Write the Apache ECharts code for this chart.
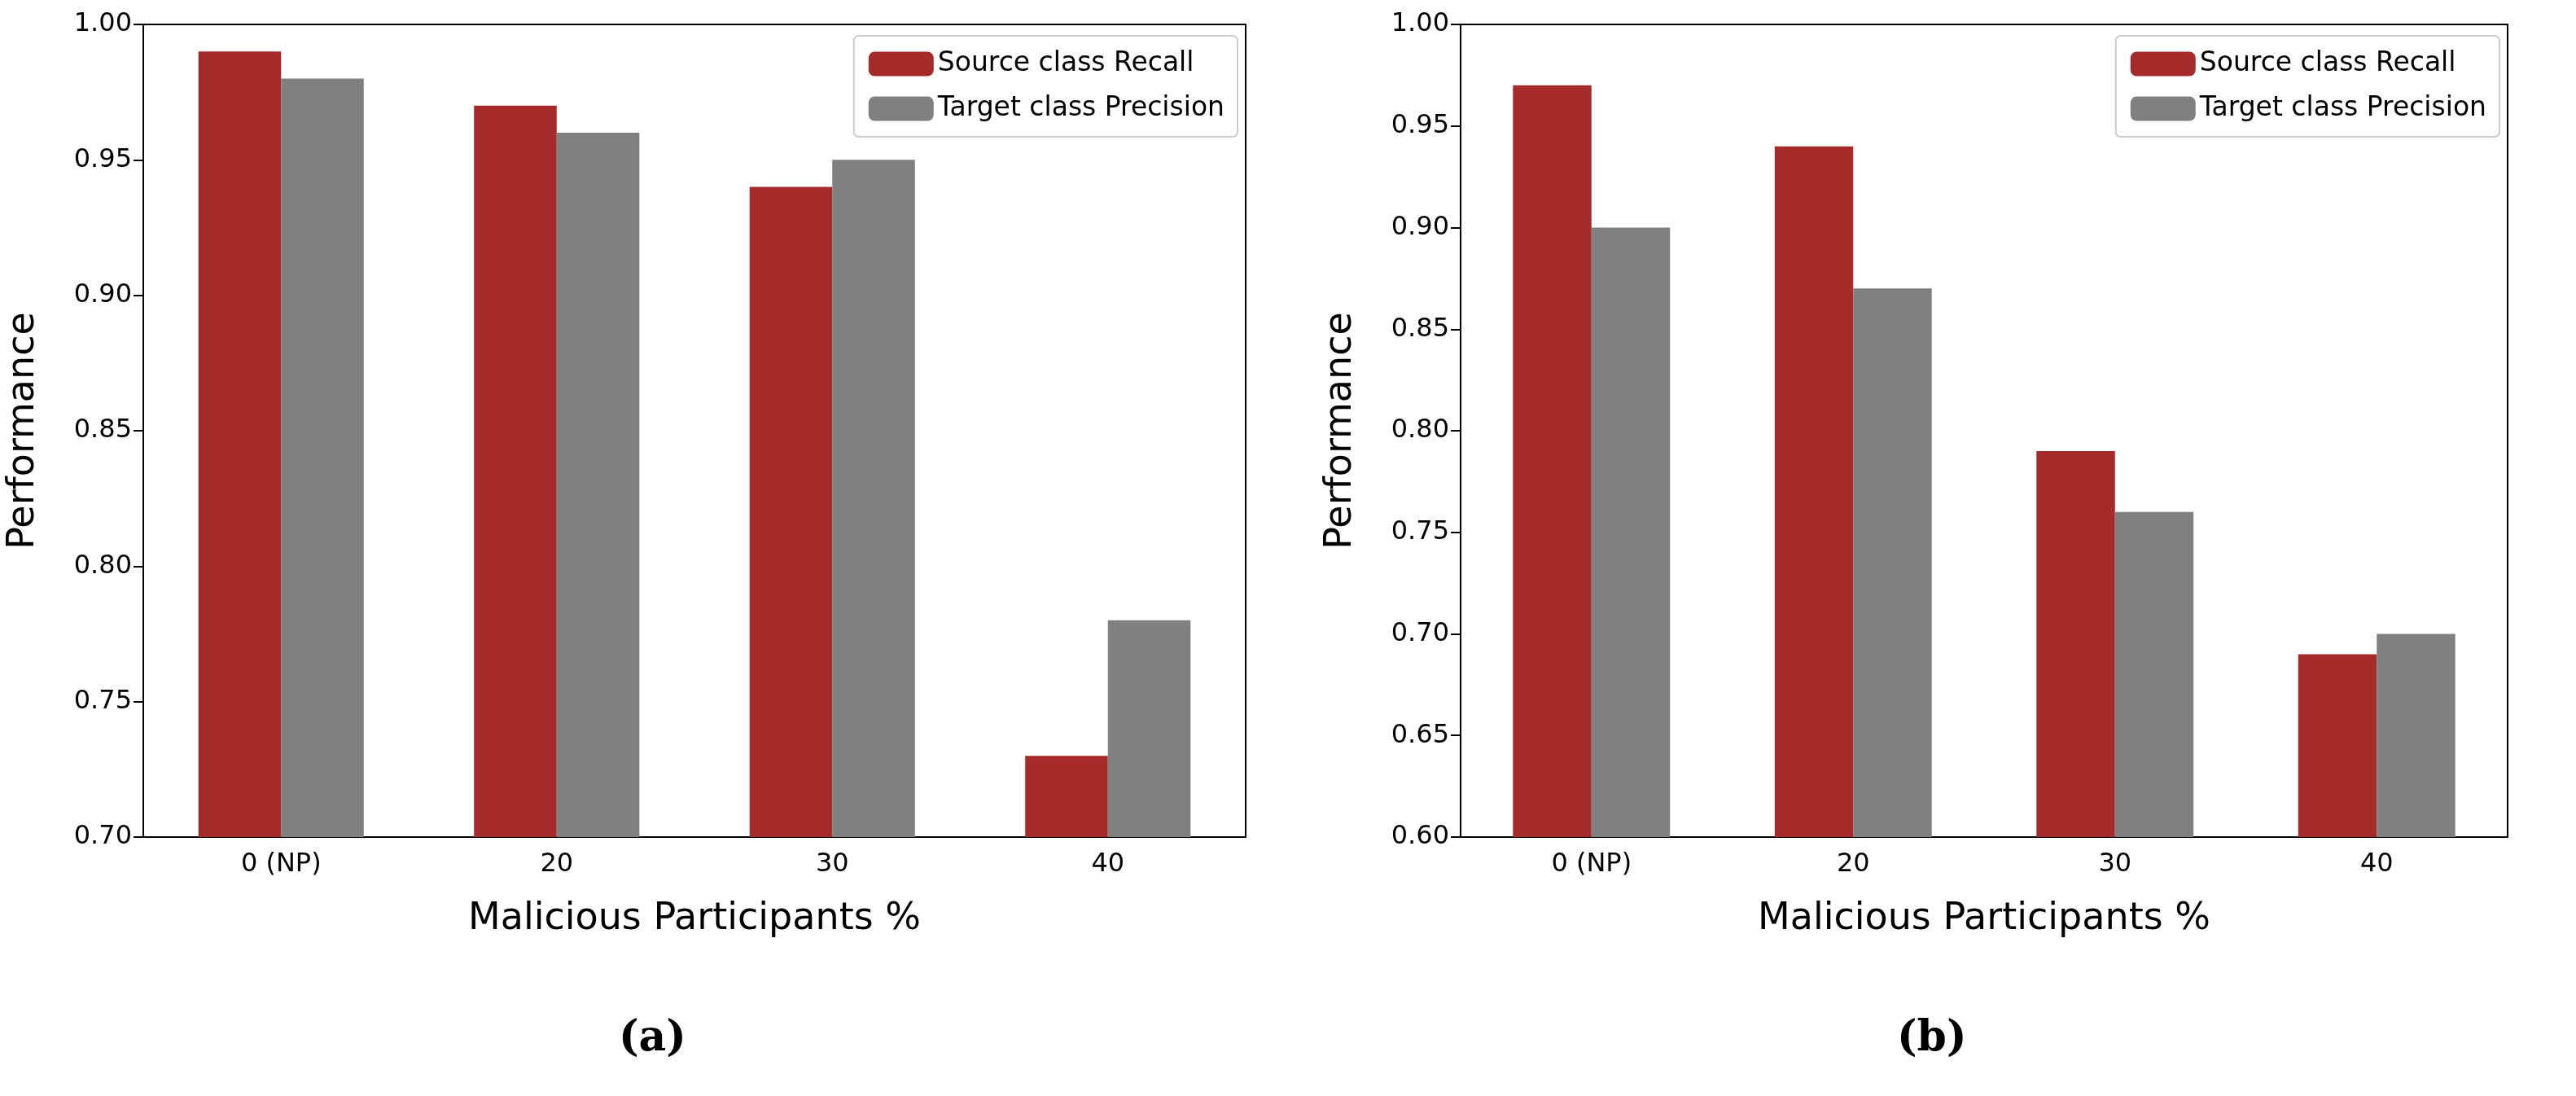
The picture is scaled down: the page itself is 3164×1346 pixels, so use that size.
<!DOCTYPE html>
<html><head><meta charset="utf-8">
<script src="https://cdn.jsdelivr.net/npm/echarts@6/dist/echarts.min.js"></script>
<style>html,body{margin:0;background:#fff}#c{width:3164px;height:1346px}</style>
</head><body><div id="c"></div>
<script>
const categories = ['0 (NP)', '20', '30', '40'];
const recallA = [0.99, 0.97, 0.94, 0.73];
const precisionA = [0.98, 0.96, 0.95, 0.78];
const recallB = [0.97, 0.94, 0.79, 0.69];
const precisionB = [0.90, 0.87, 0.76, 0.70];
const seriesNames = ['Source class Recall', 'Target class Precision'];
const RED = '#a52a2a', GRAY = '#808080';
const F = 'DejaVu Sans';

const chart = echarts.init(document.getElementById('c'));
function grid(left, width){return {left:left, top:30, width:width, height:998, show:true, borderColor:'#000', borderWidth:2, backgroundColor:'transparent'};}
function xAx(i){return {type:'category', gridIndex:i, data:categories, boundaryGap:true,
  axisLine:{lineStyle:{color:'#000',width:2}}, axisTick:{alignWithLabel:true,length:12,lineStyle:{color:'#000',width:2}},
  axisLabel:{fontFamily:F,fontSize:32,color:'#000',margin:18},
  name:'Malicious Participants %', nameLocation:'middle', nameGap:78, nameTextStyle:{fontFamily:F,fontSize:46,color:'#000'}};}
function yAx(i,min){return {type:'value', gridIndex:i, min:min, max:1.0, interval:0.05,
  splitLine:{show:false}, axisLine:{show:true,lineStyle:{color:'#000',width:2}}, axisTick:{show:true,length:12,lineStyle:{color:'#000',width:2}},
  axisLabel:{fontFamily:F,fontSize:32,color:'#000',margin:14,formatter:v=>v.toFixed(2)},
  name:'Performance', nameLocation:'middle', nameGap:i===0?124:124, nameRotate:90, nameTextStyle:{fontFamily:F,fontSize:46,color:'#000'}};}
function bar(name,data,color,i){return {type:'bar',name:name,data:data,xAxisIndex:i,yAxisIndex:i,barGap:'0%',barCategoryGap:'40%',itemStyle:{color:color}};}
function legend(right){return {right:right, top:44, orient:'vertical', itemWidth:80, itemHeight:30, itemGap:22,
  padding:[18,16,18,18], borderColor:'#ccc', borderWidth:2, borderRadius:6,
  textStyle:{fontFamily:F,fontSize:33,color:'#000'}, data:seriesNames};}
chart.setOption({
  animation:false,
  grid:[grid(176,1354), grid(1794,1286)],
  xAxis:[xAx(0), xAx(1)],
  yAxis:[yAx(0,0.70), yAx(1,0.60)],
  legend:[legend(3164-1520), legend(3164-3070)],
  series:[bar(seriesNames[0],recallA,RED,0), bar(seriesNames[1],precisionA,GRAY,0),
          bar(seriesNames[0],recallB,RED,1), bar(seriesNames[1],precisionB,GRAY,1)],
  graphic:[
    {type:'text',left:760,top:1250,style:{text:'(a)',font:'bold 52px "DejaVu Serif"',fill:'#000'}},
    {type:'text',left:2330,top:1250,style:{text:'(b)',font:'bold 52px "DejaVu Serif"',fill:'#000'}}
  ]
});
</script></body></html>
